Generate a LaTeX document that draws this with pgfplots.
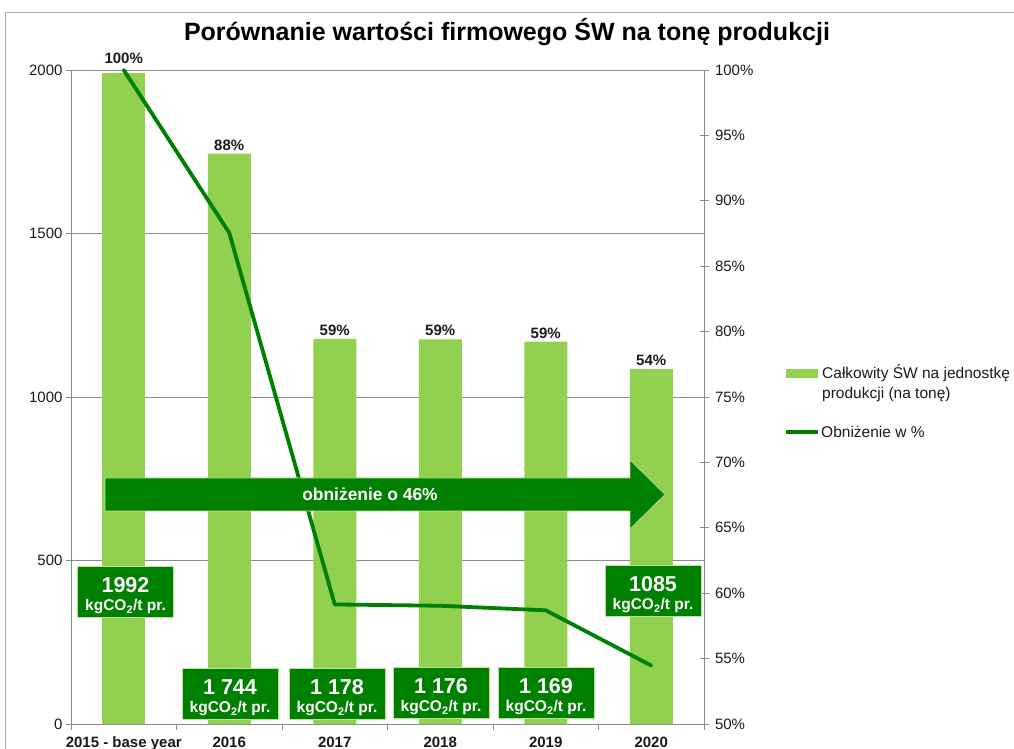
\documentclass[border=0pt]{standalone}
\usepackage{pgfplots}
\pgfplotsset{compat=1.18}
\usepackage{fontspec}
\setmainfont{Liberation Sans}
\definecolor{barg}{HTML}{92D050}
\definecolor{dg}{HTML}{008000}
\definecolor{gridc}{HTML}{8C8C8C}
\definecolor{txt}{HTML}{1A1A1A}
\newcommand{\fs}[1]{\fontsize{#1}{#1}\selectfont}
\newcommand{\valbox}[3]{%
  \node[fill=dg, draw=barg!60!white, line width=0.8pt, minimum width=96pt, minimum height=51pt,
        inner sep=0pt] at (#1,#2) {};
  \node[anchor=base, inner sep=0pt, text=white, font=\bfseries\fs{21.5}] at (#1,#2-1) {#3};
  \node[anchor=base, inner sep=0pt, text=white, font=\bfseries\fs{15.5}] at (#1,#2-19) {kgCO\textsubscript{2}/t pr.};}

\begin{document}
\begin{tikzpicture}[x=1pt,y=1pt]
\useasboundingbox (0,0) rectangle (1014,749);
\draw[gridc!70, line width=0.8pt] (5,-20) -- (5,737) -- (1030,737);
\node[font=\bfseries\fs{25}, text=black] at (507,717) {Porównanie wartości firmowego ŚW na tonę produkcji};

\begin{axis}[
  at={(71pt,25pt)}, anchor=south west, width=633pt, height=654pt, scale only axis,
  xmin=-0.5, xmax=5.5, ymin=0, ymax=2000,
  axis x line*=bottom, axis y line*=left,
  axis line style={gridc, line width=0.8pt},
  xtick={0,...,5},
  xticklabels={2015 - base year,2016,2017,2018,2019,2020},
  major x tick style={draw=none},
  minor xtick={-0.5,0.5,...,5.5},
  minor x tick style={gridc, line width=0.8pt},
  minor tick length=6pt,
  xticklabel style={font=\bfseries\fs{15}, text=txt, yshift=-4pt},
  ytick={0,500,1000,1500,2000},
  yticklabels={0,500,1000,1500,2000},
  yticklabel style={font=\fs{15}, text=txt},
  ymajorgrids, grid style={gridc, line width=0.8pt},
  major y tick style={gridc, line width=0.8pt},
  major tick length=5pt,
  tick align=outside,
  clip=false,
]
\addplot[ybar, bar width=43pt, bar shift=0pt, fill=barg, draw=none,
  point meta=explicit symbolic,
  nodes near coords, nodes near coords style={font=\bfseries\fs{15}, text=txt, anchor=south, yshift=5pt}]
  table[meta=lab] {
x y lab
0 1992 100\%
};
\addplot[ybar, bar width=43pt, bar shift=0pt, fill=barg, draw=none,
  point meta=explicit symbolic,
  nodes near coords, nodes near coords style={font=\bfseries\fs{15}, text=txt, anchor=south, yshift=0pt}]
  table[meta=lab] {
x y lab
1 1744 88\%
2 1178 59\%
3 1176 59\%
4 1169 59\%
5 1085 54\%
};
\end{axis}

\begin{axis}[
  at={(71pt,25pt)}, anchor=south west, width=633pt, height=654pt, scale only axis,
  xmin=-0.5, xmax=5.5, ymin=50, ymax=100,
  axis x line=none, axis y line*=right,
  axis line style={gridc, line width=0.8pt},
  ytick={50,55,...,100},
  yticklabels={50\%,55\%,60\%,65\%,70\%,75\%,80\%,85\%,90\%,95\%,100\%},
  yticklabel style={font=\fs{15}, text=txt, xshift=3pt},
  major y tick style={gridc, line width=0.8pt},
  major tick length=9pt,
  tick align=center,
  clip=false,
]
\addplot[dg, line width=3.8pt, line join=round, line cap=round] coordinates {
(0,100) (1,87.55) (2,59.14) (3,59.04) (4,58.69) (5,54.47)};
\end{axis}

% arrow
\fill[dg] (105,271) -- (630,271) -- (630,289) -- (665,254.5) -- (630,220) -- (630,238) -- (105,238) -- cycle;
\draw[barg!60!white, line width=0.6pt] (105,271) -- (630,271) -- (630,289) -- (665,254.5) -- (630,220) -- (630,238) -- (105,238) -- cycle;
\node[font=\bfseries\fs{17.4}, text=white] at (370,254.5) {obniżenie o 46\%};

\valbox{125.5}{157}{1992}
\valbox{230}{55.5}{1 744}
\valbox{337}{55.5}{1 178}
\valbox{441}{56}{1 176}
\valbox{546}{56}{1 169}
\valbox{653}{158.5}{1085}

% legend
\fill[barg] (786,371) rectangle (818,380);
\node[anchor=west, align=left, font=\fs{15.5}, text=txt, inner sep=0pt] at (822,366) {Całkowity ŚW na jednostkę\\[4pt]produkcji (na tonę)};
\draw[dg, line width=3.5pt] (786,317) -- (818,317);
\node[anchor=west, font=\fs{15.5}, text=txt, inner sep=0pt] at (821,317) {Obniżenie w \%};
\end{tikzpicture}
\end{document}
